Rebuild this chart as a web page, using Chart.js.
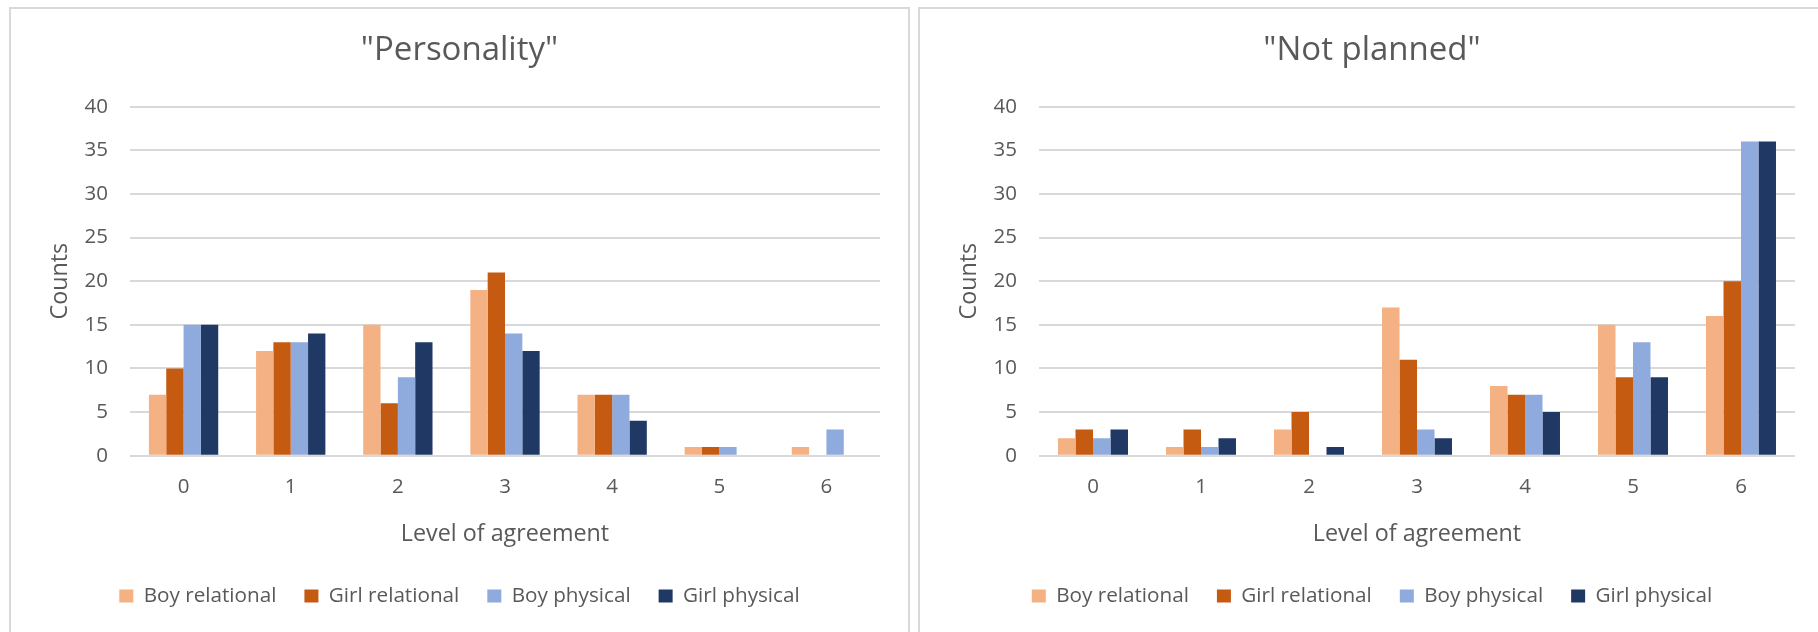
<!DOCTYPE html>
<html>
<head>
<meta charset="utf-8">
<title>Level of agreement: "Personality" and "Not planned"</title>
<script src="https://cdn.jsdelivr.net/npm/chart.js@4.4.1/dist/chart.umd.min.js"></script>
<style>
  html, body { margin: 0; padding: 0; background: #ffffff; overflow: hidden; }
  body { width: 1818px; height: 632px; position: relative; }
  .panel { position: absolute; top: 7px; height: 700px; border: 2px solid #d9d9d9; box-sizing: border-box; }
  #panelA { left: 9px; width: 901px; }
  #panelB { left: 918px; width: 1000px; }
  canvas { position: absolute; top: 0; }
  #chartA { left: 0; }
  #chartB { left: 909px; }
</style>
</head>
<body>
<div class="panel" id="panelA"></div>
<div class="panel" id="panelB"></div>
<canvas id="chartA" width="909" height="632"></canvas>
<canvas id="chartB" width="909" height="632"></canvas>
<script>
// Categories (level of agreement) and tick labels
const levels = ['0', '1', '2', '3', '4', '5', '6'];
const countTicks = [0, 5, 10, 15, 20, 25, 30, 35, 40];

// Series names and colours
const seriesNames = ['Boy relational', 'Girl relational', 'Boy physical', 'Girl physical'];
const seriesColors = ['#F4B183', '#C55A11', '#8FAADC', '#203864'];

// "Personality" counts
const personalityBoyRelational  = [7, 12, 15, 19, 7, 1, 1];
const personalityGirlRelational = [10, 13, 6, 21, 7, 1, 0];
const personalityBoyPhysical    = [15, 13, 9, 14, 7, 1, 3];
const personalityGirlPhysical   = [15, 14, 13, 12, 4, 0, 0];

// "Not planned" counts
const notPlannedBoyRelational  = [2, 1, 3, 17, 8, 15, 16];
const notPlannedGirlRelational = [3, 3, 5, 11, 7, 9, 20];
const notPlannedBoyPhysical    = [2, 1, 0, 3, 7, 13, 36];
const notPlannedGirlPhysical   = [3, 2, 1, 2, 5, 9, 36];

Chart.defaults.font.family = "'Open Sans', 'Noto Sans', sans-serif";
Chart.defaults.color = '#595959';

function buildChart(canvasId, titleText, series, frame) {
  const datasets = series.map((values, i) => ({
    label: seriesNames[i],
    data: values,
    backgroundColor: seriesColors[i],
    borderWidth: 0,
    categoryPercentage: frame.groupShare,
    barPercentage: 1
  }));

  return new Chart(document.getElementById(canvasId), {
    type: 'bar',
    data: { labels: levels, datasets },
    options: {
      responsive: false,
      animation: false,
      devicePixelRatio: 1,
      layout: { padding: { left: frame.padLeft, right: frame.padRight, top: 0, bottom: 15.65 } },
      plugins: {
        title: {
          display: true,
          text: titleText,
          color: '#595959',
          font: { size: 33, weight: 'normal' },
          padding: { top: 30.5, bottom: 36.6 }
        },
        legend: {
          position: 'bottom',
          labels: {
            boxWidth: 14,
            boxHeight: 13,
            padding: 28,
            color: '#595959',
            font: { size: 20.7 }
          }
        },
        tooltip: { enabled: false }
      },
      scales: {
        x: {
          grid: { display: false, drawTicks: false },
          border: { display: false },
          ticks: { padding: 18.7, color: '#595959', font: { size: 20.5 } },
          title: {
            display: true,
            text: 'Level of agreement',
            color: '#595959',
            font: { size: 23.3 },
            padding: { top: 0, bottom: 9.37 }
          },
          afterFit(scale) { scale.height = 101.95; }
        },
        y: {
          min: 0,
          max: 40,
          afterBuildTicks(scale) { scale.ticks = countTicks.map(v => ({ value: v })); },
          ticks: { padding: 22, color: '#595959', font: { size: 20.5 } },
          grid: { color: '#d9d9d9', lineWidth: 2, drawTicks: false },
          border: { display: false },
          title: {
            display: true,
            text: 'Counts',
            color: '#595959',
            font: { size: 23.3 },
            padding: { top: frame.yTitlePad, bottom: 0 }
          },
          afterFit(scale) { scale.width = frame.yWidth; }
        }
      }
    }
  });
}

buildChart('chartA', '"Personality"',
  [personalityBoyRelational, personalityGirlRelational, personalityBoyPhysical, personalityGirlPhysical],
  { padLeft: 39, padRight: 29, yWidth: 91, yTitlePad: 7, groupShare: 0.647 });

buildChart('chartB', '"Not planned"',
  [notPlannedBoyRelational, notPlannedGirlRelational, notPlannedBoyPhysical, notPlannedGirlPhysical],
  { padLeft: 40, padRight: 23, yWidth: 90, yTitlePad: 6, groupShare: 0.648 });
</script>
</body>
</html>
